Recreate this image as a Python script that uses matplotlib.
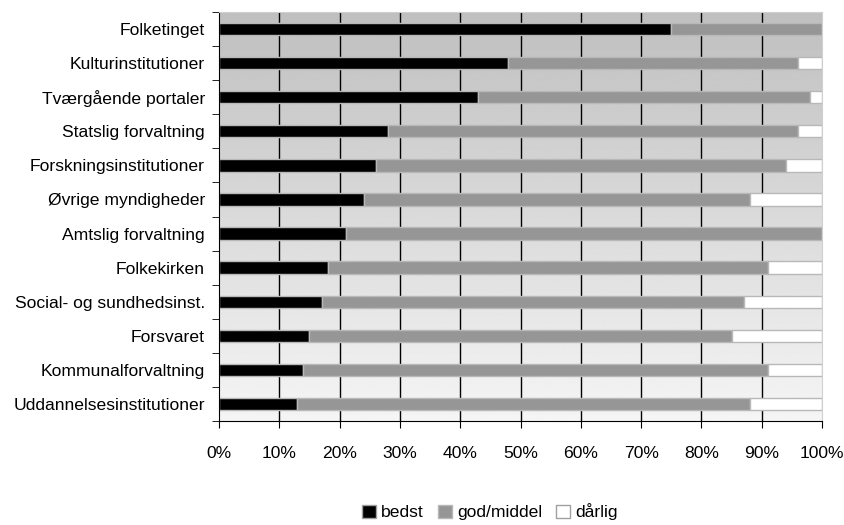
import numpy as np
import matplotlib.pyplot as plt
from matplotlib.patches import Patch
from matplotlib.ticker import FixedLocator

plt.rcParams['font.family'] = ['Liberation Sans', 'DejaVu Sans']

categories = ['Folketinget', 'Kulturinstitutioner', 'Tværgående portaler',
              'Statslig forvaltning', 'Forskningsinstitutioner', 'Øvrige myndigheder',
              'Amtslig forvaltning', 'Folkekirken', 'Social- og sundhedsinst.',
              'Forsvaret', 'Kommunalforvaltning', 'Uddannelsesinstitutioner']
bedst = [75, 48, 43, 28, 26, 24, 21, 18, 17, 15, 14, 13]
god = [25, 48, 55, 68, 68, 64, 79, 73, 70, 70, 77, 75]
daarlig = [0, 4, 2, 4, 6, 12, 0, 9, 13, 15, 9, 12]

fig = plt.figure(figsize=(8.45, 5.25), dpi=100)
ax = fig.add_axes([219 / 845, 1 - 421 / 525, 603 / 845, 409 / 525])

n = len(categories)
y = np.arange(n)

# gradient background, darker at the top
grad = np.linspace(0.75, 0.96, 256).reshape(-1, 1)
ax.imshow(grad, cmap='gray', vmin=0, vmax=1, aspect='auto',
          extent=[0, 100, n - 0.5, -0.5], zorder=0, interpolation='bilinear')

for xv in range(10, 100, 10):
    ax.axvline(xv, color='black', lw=1, zorder=1)

h = 0.36
edge = '#b8b8b8'
ax.barh(y, bedst, height=h, color='black', edgecolor=edge, lw=1, zorder=2, label='bedst')
ax.barh(y, god, left=bedst, height=h, color='#969696', edgecolor=edge, lw=1, zorder=2,
        label='god/middel')
left2 = np.array(bedst) + np.array(god)
ax.barh(y, daarlig, left=left2, height=h, color='white', edgecolor=edge, lw=1, zorder=2,
        label='dårlig')

fs = 12.6
ax.set_xlim(0, 100)
ax.set_ylim(n - 0.5, -0.5)
ax.set_xticks(range(0, 101, 10))
ax.set_xticklabels([f'{v}%' for v in range(0, 101, 10)], fontsize=fs)
ax.set_yticks(y)
ax.set_yticklabels(categories, fontsize=fs)
ax.tick_params(axis='y', length=0, pad=10)
ax.yaxis.set_minor_locator(FixedLocator(np.arange(-0.5, n, 1)))
ax.tick_params(axis='y', which='minor', length=5, color='black')
ax.tick_params(axis='x', length=5, pad=13, color='black')

for s in ['top', 'right']:
    ax.spines[s].set_color('#d0d0d0')
for s in ['left', 'bottom']:
    ax.spines[s].set_color('black')

handles = [Patch(facecolor='black', edgecolor='#a0a0a0', label='bedst'),
           Patch(facecolor='#969696', edgecolor='#b8b8b8', label='god/middel'),
           Patch(facecolor='white', edgecolor='#a0a0a0', label='dårlig')]
fig.legend(handles=handles, loc='center', bbox_to_anchor=(490 / 845, 1 - 512 / 525),
           ncol=3, frameon=False, fontsize=fs, handlelength=0.8, handleheight=0.8,
           handletextpad=0.3, columnspacing=0.8)

fig.savefig('out.png', dpi=100)
